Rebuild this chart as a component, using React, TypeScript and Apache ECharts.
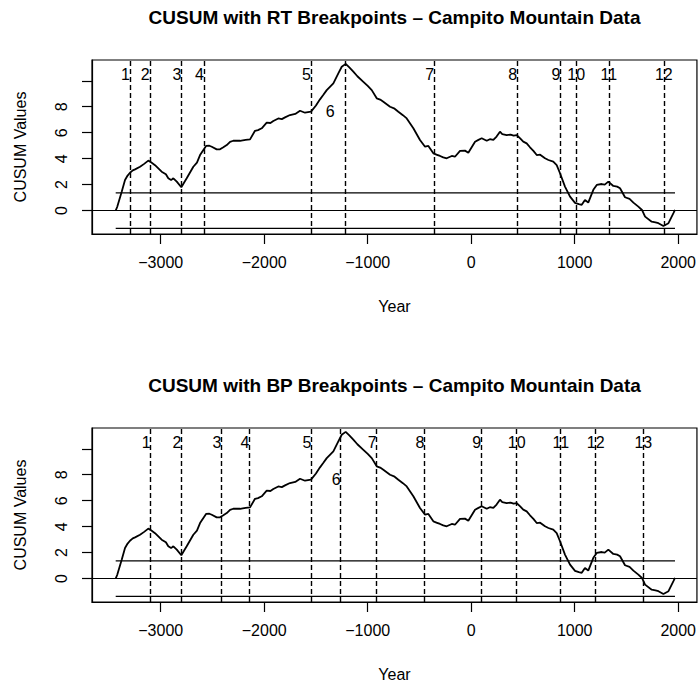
import React, { useEffect, useRef } from "react";
import * as echarts from "echarts";

// CUSUM path (year, value)
const years = [
  -3435, -3420, -3410, -3377, -3345, -3320, -3297, -3270, -3248, -3200, -3160, -3120,
  -3090, -3055, -2991, -2950, -2927, -2900, -2878, -2845, -2801, -2775, -2749, -2685,
  -2650, -2620, -2562, -2530, -2507, -2459, -2427, -2395, -2362, -2330, -2299, -2234,
  -2180, -2137, -2089, -2060, -2024, -1976, -1940, -1912, -1864, -1830, -1799, -1751,
  -1700, -1654, -1606, -1548, -1500, -1461, -1430, -1396, -1332, -1284, -1251, -1213,
  -1180, -1139, -1100, -1042, -1000, -961, -913, -880, -849, -784, -740, -704,
  -660, -623, -559, -495, -446, -414, -366, -330, -301, -270, -237, -188,
  -157, -108, -60, -28, 37, 70, 101, 150, 180, 214, 245, 278,
  300, 343, 380, 410, 440, 473, 503, 536, 568, 601, 633, 666,
  713, 746, 793, 826, 858, 906, 955, 1003, 1040, 1068, 1099, 1131,
  1180, 1213, 1261, 1290, 1325, 1373, 1410, 1438, 1486, 1530, 1567, 1615,
  1650, 1680, 1744, 1780, 1809, 1857, 1906, 1954, 1969,
];
const cusum = [
  0.0, 0.3, 0.57, 1.46, 2.36, 2.7, 2.92, 3.1, 3.18, 3.38, 3.6, 3.85,
  3.7, 3.5, 3.0, 2.8, 2.49, 2.35, 2.49, 2.23, 1.8, 2.15, 2.49, 3.38,
  3.7, 4.28, 4.98, 5.0, 4.92, 4.72, 4.72, 4.88, 5.05, 5.3, 5.38, 5.38,
  5.45, 5.49, 6.15, 6.2, 6.34, 6.77, 6.75, 6.9, 7.1, 7.05, 7.18, 7.36,
  7.45, 7.69, 7.54, 7.62, 8.1, 8.57, 8.9, 9.28, 9.8, 10.57, 11.08, 11.3,
  11.05, 10.7, 10.35, 9.92, 9.6, 9.28, 8.65, 8.55, 8.38, 8.0, 7.85, 7.62,
  7.35, 7.1, 6.34, 5.44, 4.92, 4.98, 4.41, 4.3, 4.21, 4.1, 4.03, 4.21,
  4.15, 4.6, 4.62, 4.46, 5.31, 5.45, 5.57, 5.38, 5.5, 5.44, 5.7, 6.08,
  5.9, 5.82, 5.86, 5.78, 5.82, 5.56, 5.31, 5.18, 4.88, 4.6, 4.28, 4.31,
  4.03, 3.9, 3.77, 3.5, 2.88, 1.85, 1.08, 0.6, 0.5, 0.45, 0.82, 0.62,
  1.6, 1.98, 2.05, 2.0, 2.23, 1.9, 1.85, 1.72, 1.03, 0.9, 0.62, 0.31,
  0.05, -0.46, -0.85, -0.9, -0.97, -1.18, -0.97, -0.2, 0.05,
];
const boundary = 1.36;
const rtBreaks = [-3297, -3106, -2801, -2582, -1548, -1213, -359, 443, 862, 1014, 1330, 1861];
const bpBreaks = [-3097, -2801, -2414, -2144, -1545, -1261, -913, -453, 95, 440, 865, 1203, 1663];
const xTicks = [-3000, -2000, -1000, 0, 1000, 2000];
const yTicks = [0, 2, 4, 6, 8, 10];
const yTickLabels = [0, 2, 4, 6, 8];
const titles = [
  "CUSUM with RT Breakpoints \u2013 Campito Mountain Data",
  "CUSUM with BP Breakpoints \u2013 Campito Mountain Data",
];
const xName = "Year";
const yName = "CUSUM Values";

const FONT = "'Liberation Sans', Arial, Helvetica, sans-serif";

export default function App() {
  const ref = useRef<HTMLDivElement>(null);
  useEffect(() => {
    if (!ref.current) return;
    const chart = echarts.init(ref.current, null, { renderer: "svg" });
    const panels = [
      { breaks: rtBreaks, top: 60, titleTop: 8, sixOffset: -11 },
      { breaks: bpBreaks, top: 428, titleTop: 376, sixOffset: 0 },
    ];
    const x0 = years[0];
    const x1 = years[years.length - 1];
    const series: any[] = [];
    panels.forEach((p, i) => {
      series.push({
        type: "line",
        xAxisIndex: i,
        yAxisIndex: i,
        data: years.map((y, k) => [y, cusum[k]]),
        showSymbol: false,
        symbol: "none",
        lineStyle: { color: "#000", width: 1.8 },
        z: 3,
        markLine: {
          silent: true,
          symbol: "none",
          label: { show: false },
          lineStyle: { color: "#000", width: 1.4, type: [5, 3] },
          data: [
            ...p.breaks.map((b) => ({ xAxis: b })),
            { yAxis: 0, lineStyle: { type: "solid", width: 1.2, color: "#000" } },
          ],
        },
      });
      [boundary, -boundary].forEach((b) => {
        series.push({
          type: "line",
          xAxisIndex: i,
          yAxisIndex: i,
          data: [
            [x0, b],
            [x1, b],
          ],
          showSymbol: false,
          symbol: "none",
          lineStyle: { color: "#000", width: 1.2 },
        });
      });
      series.push({
        type: "scatter",
        xAxisIndex: i,
        yAxisIndex: i,
        symbolSize: 0,
        itemStyle: { color: "#000", opacity: 1 },
        data: p.breaks.map((b, k) => {
          const lbl = String(k + 1);
          const isSix = k === 5;
          return {
            value: [b, isSix ? 7.6 : 10.45],
            label: {
              show: true,
              formatter: lbl,
              position: lbl.length > 1 ? "inside" : "left",
              distance: 0,
              offset: isSix ? [p.sixOffset, 0] : [0, 0],
              fontSize: 16,
              color: "#000",
              opacity: 1,
              textBorderWidth: 0,
              fontFamily: FONT,
            },
          };
        }),
        z: 5,
      });
    });

    const option: any = {
      animation: false,
      backgroundColor: "#fff",
      textStyle: { fontFamily: FONT, color: "#000" },
      title: panels.map((p, i) => ({
        text: titles[i],
        left: 394.5,
        top: p.titleTop,
        textAlign: "center",
        padding: 0,
        textStyle: { fontSize: 19, fontWeight: "bold", color: "#000", fontFamily: FONT },
      })),
      grid: panels.map((p) => ({
        left: 92,
        top: p.top,
        width: 605,
        height: 174,
        show: true,
        borderColor: "#000",
        borderWidth: 1.2,
        backgroundColor: "transparent",
      })),
      xAxis: panels.map((p, i) => ({
        type: "value",
        gridIndex: i,
        min: -3664,
        max: 2181,
        splitLine: { show: false },
        axisLine: { show: true, onZero: false, lineStyle: { color: "#000", width: 1.2 } },
        axisTick: { show: true, customValues: xTicks, length: 10, lineStyle: { color: "#000", width: 1.2 } },
        axisLabel: {
          customValues: xTicks,
          formatter: (v: number) => (v < 0 ? "\u2212" + Math.abs(v) : String(v)),
          fontSize: 16,
          color: "#000",
          margin: 20,
          fontFamily: FONT,
        },
        name: xName,
        nameLocation: "middle",
        nameGap: 64,
        nameTextStyle: { fontSize: 16, color: "#000", fontFamily: FONT },
      })),
      yAxis: panels.map((p, i) => ({
        type: "value",
        gridIndex: i,
        min: -1.8,
        max: 11.6,
        splitLine: { show: false },
        axisLine: { show: true, onZero: false, lineStyle: { color: "#000", width: 1.2 } },
        axisTick: { show: true, customValues: yTicks, length: 10, lineStyle: { color: "#000", width: 1.2 } },
        axisLabel: {
          customValues: yTickLabels,
          rotate: 90,
          fontSize: 16,
          color: "#000",
          margin: 23,
          fontFamily: FONT,
        },
        name: yName,
        nameLocation: "middle",
        nameRotate: 90,
        nameGap: 64,
        nameTextStyle: { fontSize: 16, color: "#000", fontFamily: FONT },
      })),
      series,
    };
    chart.setOption(option);
    return () => chart.dispose();
  }, []);
  return (
    <div
      ref={ref}
      style={{ position: "absolute", left: 0, top: 0, width: 699, height: 688, background: "#fff" }}
    />
  );
}
